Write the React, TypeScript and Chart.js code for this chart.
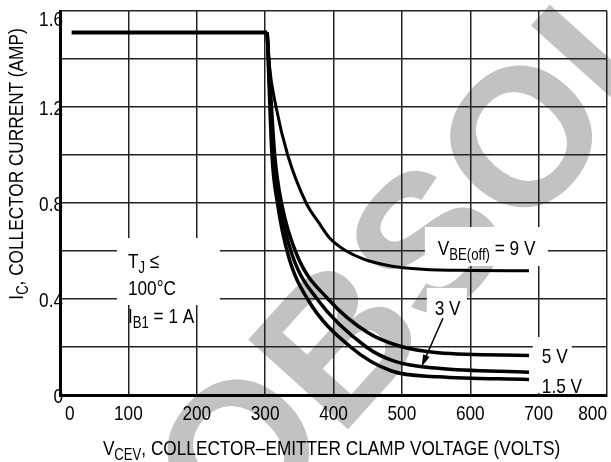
import React, { useEffect, useRef } from 'react';
import { Chart, registerables } from 'chart.js';

Chart.register(...registerables);

// Axis ticks
const xTicks = [0, 100, 200, 300, 400, 500, 600, 700, 800];
const xTickLabels = ['0', '100', '200', '300', '400', '500', '600', '700', '800'];
const yTicks = [0, 0.4, 0.8, 1.2, 1.6];
const yTickLabels = ['0', '0.4', '0.8', '1.2', '1.6'];

// Common current limit up to the knee (VCEV in volts, IC in amps)
const flatX = [17, 303];
const flatY = [1.51, 1.51];

// Reverse-bias safe area curves for each VBE(off)
const v9X = [303, 306, 316, 333, 360, 378, 395, 417, 445, 480, 530, 600, 686];
const v9Y = [1.51, 1.38, 1.2, 1.0, 0.8, 0.72, 0.652, 0.603, 0.565, 0.54, 0.524, 0.519, 0.518];

const v5X = [303, 314, 324, 347, 392, 450, 495, 553, 686];
const v5Y = [1.51, 1.0, 0.8, 0.58, 0.4, 0.26, 0.205, 0.176, 0.165];

const v3X = [303, 312, 321, 340, 376, 448, 490, 553, 686];
const v3Y = [1.51, 1.0, 0.8, 0.58, 0.4, 0.2, 0.14, 0.111, 0.095];

const v15X = [303, 310, 318, 334, 362, 425, 485, 553, 686];
const v15Y = [1.51, 1.0, 0.8, 0.58, 0.4, 0.2, 0.1, 0.076, 0.065];

const FONT = '"Liberation Sans", Arial, sans-serif';
const SX = 0.82; // condensed lettering

const pts = (xs: number[], ys: number[]) => xs.map((x, i) => ({ x, y: ys[i] }));

type Part = [string, boolean];

function richWidth(ctx: CanvasRenderingContext2D, parts: Part[], size: number) {
  let w = 0;
  for (const [t, sub] of parts) {
    ctx.font = `${sub ? Math.round(size * 0.78) : size}px ${FONT}`;
    w += ctx.measureText(t).width;
  }
  return w * SX;
}

function rich(ctx: CanvasRenderingContext2D, parts: Part[], x: number, y: number, size: number) {
  ctx.save();
  ctx.translate(x, y);
  ctx.scale(SX, 1);
  ctx.textAlign = 'left';
  ctx.textBaseline = 'alphabetic';
  let cx = 0;
  for (const [t, sub] of parts) {
    ctx.font = `${sub ? Math.round(size * 0.78) : size}px ${FONT}`;
    ctx.fillText(t, cx, sub ? 5 : 0);
    cx += ctx.measureText(t).width;
  }
  ctx.restore();
}

const decorations = {
  id: 'decorations',
  beforeDraw(chart: any) {
    const ctx: CanvasRenderingContext2D = chart.ctx;
    ctx.save();
    ctx.fillStyle = '#fff';
    ctx.fillRect(0, 0, chart.width, chart.height);
    // watermark
    ctx.translate(186, 505);
    ctx.rotate((-48 * Math.PI) / 180);
    ctx.font = 'bold 195px "Liberation Sans", Arial, sans-serif';
    ctx.fillStyle = '#c2c2c2';
    ctx.textBaseline = 'alphabetic';
    ctx.fillText('OBSOLETE', 0, 0.716 * 97.5);
    ctx.restore();
  },
  beforeDatasetsDraw(chart: any) {
    const ctx: CanvasRenderingContext2D = chart.ctx;
    const xs = chart.scales.x;
    const ys = chart.scales.y;
    const px = (v: number) => xs.getPixelForValue(v);
    const py = (v: number) => ys.getPixelForValue(v);
    ctx.save();
    // label backgrounds
    const boxes: [number, number, number, number][] = [
      [83.3, 233.9, 0.654, 0.375],
      [533.6, 713.5, 0.7, 0.5375],
      [536.5, 595, 0.446, 0.3125],
      [691.5, 748.5, 0.2417, 0.104],
      [691.5, 775, 0.104, 0.008],
    ];
    ctx.fillStyle = '#fff';
    for (const [x0, x1, y0, y1] of boxes) {
      ctx.fillRect(px(x0), py(y0), px(x1) - px(x0), py(y1) - py(y0));
    }
    ctx.fillStyle = '#000';
    rich(ctx, [['T', false], ['J', true], [' \u2264', false]], px(99.4), py(0.529), 21);
    rich(ctx, [['100\u00B0C', false]], px(99.4), py(0.4167), 21);
    rich(ctx, [['I', false], ['B1', true], [' = 1 A', false]], px(99.4), py(0.3), 21);
    rich(ctx, [['V', false], ['BE(off)', true], [' = 9 V', false]], px(552.6), py(0.5833), 21);
    rich(ctx, [['3 V', false]], px(548), py(0.333), 21);
    rich(ctx, [['5 V', false]], px(704.7), py(0.1333), 21);
    rich(ctx, [['1.5 V', false]], px(704.7), py(0.0083), 21);

    // pointer from the 3 V label to its curve
    const ax0 = px(560), ay0 = py(0.32), ax1 = px(528.8), ay1 = py(0.118);
    const ang = Math.atan2(ay1 - ay0, ax1 - ax0);
    ctx.strokeStyle = '#000';
    ctx.lineWidth = 1.5;
    ctx.beginPath();
    ctx.moveTo(ax0, ay0);
    ctx.lineTo(ax1 - 8 * Math.cos(ang), ay1 - 8 * Math.sin(ang));
    ctx.stroke();
    ctx.beginPath();
    ctx.moveTo(ax1, ay1);
    ctx.lineTo(ax1 - 12 * Math.cos(ang) + 3.5 * Math.sin(ang), ay1 - 12 * Math.sin(ang) - 3.5 * Math.cos(ang));
    ctx.lineTo(ax1 - 12 * Math.cos(ang) - 3.5 * Math.sin(ang), ay1 - 12 * Math.sin(ang) + 3.5 * Math.cos(ang));
    ctx.closePath();
    ctx.fill();
    ctx.restore();
  },
  afterDraw(chart: any) {
    const ctx: CanvasRenderingContext2D = chart.ctx;
    const area = chart.chartArea;
    const xs = chart.scales.x;
    const ys = chart.scales.y;
    ctx.save();
    ctx.fillStyle = '#000';

    // tick labels
    xTicks.forEach((v, i) => {
      const label: Part[] = [[xTickLabels[i], false]];
      const w = richWidth(ctx, label, 21);
      const p = xs.getPixelForValue(v);
      let x = p - w / 2;
      if (i === 0) x = p + 5;
      if (i === xTicks.length - 1) x = p - w;
      rich(ctx, label, x, area.bottom + 25, 21);
    });
    yTicks.forEach((v, i) => {
      const label: Part[] = [[yTickLabels[i], false]];
      const w = richWidth(ctx, label, 21);
      const p = Math.max(ys.getPixelForValue(v), area.top + 7);
      rich(ctx, label, area.left + 3 - w, p + 7.5, 21);
    });

    // x axis title
    const xParts: Part[] = [['V', false], ['CEV', true], [', COLLECTOR\u2013EMITTER CLAMP VOLTAGE (VOLTS)', false]];
    const xw = richWidth(ctx, xParts, 21);
    rich(ctx, xParts, (area.left + area.right) / 2 - xw / 2 - 2, 455, 21);
    // y axis title
    const yParts: Part[] = [['I', false], ['C', true], [', COLLECTOR CURRENT (AMP)', false]];
    const yw = richWidth(ctx, yParts, 21);
    ctx.translate(23, 164);
    ctx.rotate(-Math.PI / 2);
    rich(ctx, yParts, -yw / 2, 0, 21);
    ctx.restore();
  },
};

export default function App() {
  const ref = useRef<HTMLCanvasElement>(null);

  useEffect(() => {
    const curve = (xs: number[], ys: number[], w: number) => ({
      data: pts(xs, ys),
      borderColor: '#000',
      borderWidth: w,
      pointRadius: 0,
      fill: false,
      cubicInterpolationMode: 'monotone' as const,
      borderJoinStyle: 'round' as const,
    });
    const chart = new Chart(ref.current!, {
      type: 'line',
      data: {
        datasets: [
          { ...curve(flatX, flatY, 4), cubicInterpolationMode: 'default' as const, tension: 0 },
          curve(v9X, v9Y, 3),
          curve(v5X, v5Y, 3.5),
          curve(v3X, v3Y, 3.5),
          curve(v15X, v15Y, 3.5),
        ],
      },
      options: {
        animation: false,
        responsive: false,
        devicePixelRatio: 1,
        layout: { padding: { top: 11, right: 4, left: 0, bottom: 0 } },
        plugins: { legend: { display: false }, tooltip: { enabled: false } },
        scales: {
          x: {
            type: 'linear',
            min: 0,
            max: 800,
            afterBuildTicks: (s: any) => {
              s.ticks = xTicks.map((v) => ({ value: v }));
            },
            ticks: { display: false },
            grid: { color: '#222', lineWidth: 1.5, drawTicks: false },
            border: { color: '#000', width: 3 },
            afterFit: (s: any) => {
              s.height = 67;
            },
          },
          y: {
            type: 'linear',
            min: 0,
            max: 1.6,
            ticks: { display: false, stepSize: 0.2 },
            grid: { color: '#222', lineWidth: 1.5, drawTicks: false },
            border: { color: '#000', width: 3 },
            afterFit: (s: any) => {
              s.width = 60;
            },
          },
        },
      },
      plugins: [decorations],
    });
    return () => chart.destroy();
  }, []);

  return (
    <div style={{ position: 'absolute', left: 0, top: 0, width: 611, height: 462, background: '#fff' }}>
      <canvas ref={ref} width={611} height={462} style={{ display: 'block' }} />
    </div>
  );
}
